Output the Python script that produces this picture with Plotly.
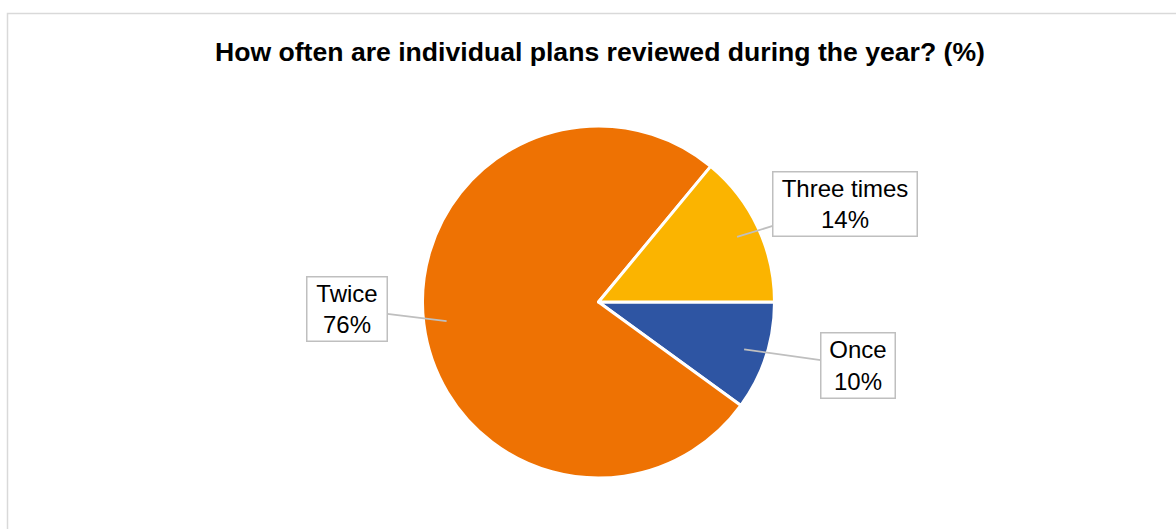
import math
import plotly.graph_objects as go

# ---- data ----
categories = ["Once", "Twice", "Three times"]
values = [10, 76, 14]
colors = ["#2E55A3", "#EE7203", "#FBB400"]
title_text = "How often are individual plans reviewed during the year? (%)"

# ---- layout constants (pixels) ----
W, H = 1176, 529
CX, CY, R = 598.5, 302.0, 176.0
box_centers = {"Three times": (845, 204), "Once": (858, 365.5), "Twice": (347, 309)}
box_sizes = {"Three times": (143, 63), "Once": (73, 64), "Twice": (79, 63)}
LEADER_F = 0.87

def px(x):
    return x / W

def py(y):
    return 1 - y / H

fig = go.Figure(go.Pie(
    labels=categories,
    values=values,
    sort=False,
    direction="clockwise",
    rotation=90,
    marker=dict(colors=colors, line=dict(color="white", width=3)),
    textinfo="none",
    hoverinfo="label+percent",
    showlegend=False,
    domain=dict(x=[px(CX - R), px(CX + R)], y=[py(CY + R), py(CY - R)]),
))

annotations = []
total = sum(values)
cum = 0.0
for cat, v in zip(categories, values):
    mid = 360.0 * (cum + v / 2) / total  # degrees clockwise from east
    cum += v
    hx = CX + R * LEADER_F * math.cos(math.radians(mid))
    hy = CY + R * LEADER_F * math.sin(math.radians(mid))
    bx, by = box_centers[cat]
    bw, bh = box_sizes[cat]
    pct = round(100 * v / total)
    annotations.append(dict(
        x=px(hx), y=py(hy), xref="paper", yref="paper",
        text=f"{cat}<br>{pct}%",
        showarrow=True, arrowhead=0, arrowwidth=1.8, arrowcolor="#bfbfbf",
        ax=bx - hx, ay=by - hy, standoff=0,
        xanchor="center", yanchor="middle",
        width=bw, height=bh, borderpad=0,
        bordercolor="#bfbfbf", borderwidth=1.5, bgcolor="white",
        font=dict(family="Liberation Sans, Arial, sans-serif", size=24, color="#000000"),
        align="center", valign="middle",
    ))

annotations.append(dict(
    x=px(599.5), y=py(52), xref="paper", yref="paper",
    text=f"<b>{title_text}</b>", showarrow=False,
    xanchor="center", yanchor="middle",
    font=dict(family="Liberation Sans, Arial, sans-serif", size=26.6, color="#000000"),
))

fig.update_layout(
    width=W, height=H,
    margin=dict(l=0, r=0, t=0, b=0),
    paper_bgcolor="white",
    plot_bgcolor="white",
    annotations=annotations,
    shapes=[dict(type="rect", xref="paper", yref="paper",
                 x0=px(7.5), x1=1.02, y0=-0.02, y1=py(13.5),
                 line=dict(color="#d9d9d9", width=1.5), layer="below")],
)

fig.write_html(
    "out.html",
    config={"displayModeBar": False},
    post_script="document.body.style.margin='0';document.body.style.overflow='hidden';",
)
